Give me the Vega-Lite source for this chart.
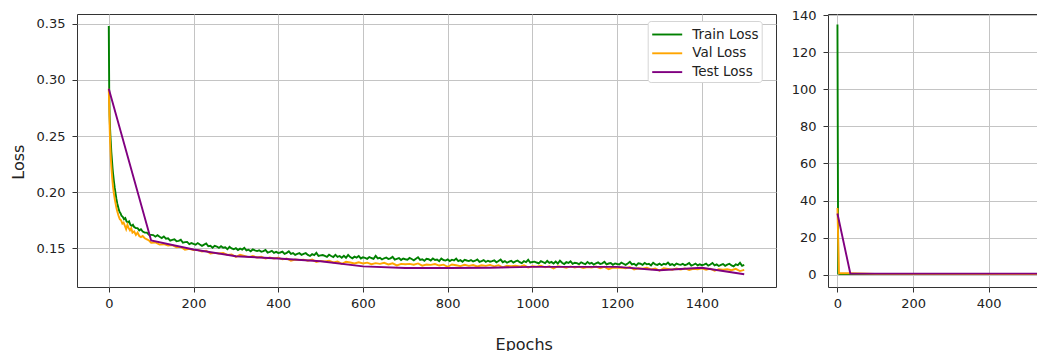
{
"$schema": "https://vega.github.io/schema/vega-lite/v6.json",
"padding": {"left": 10, "top": 8, "right": 0, "bottom": 0},
"background": "white",
"bounds": "flush",
"spacing": 52,
"datasets": {
"tr": [{"e":0,"v":0.348},{"e":1,"v":0.292},{"e":2,"v":0.268},{"e":3,"v":0.257},{"e":4,"v":0.249},{"e":5,"v":0.243},{"e":6,"v":0.236},{"e":7,"v":0.231},{"e":8,"v":0.226},{"e":9,"v":0.221},{"e":10,"v":0.217},{"e":12,"v":0.210},{"e":14,"v":0.204},{"e":16,"v":0.199},{"e":18,"v":0.194},{"e":20,"v":0.190},{"e":22,"v":0.187},{"e":24,"v":0.184},{"e":26,"v":0.182},{"e":28,"v":0.181},{"e":30,"v":0.179},{"e":33,"v":0.178},{"e":36,"v":0.176},{"e":39,"v":0.177},{"e":42,"v":0.174},{"e":45,"v":0.173},{"e":48,"v":0.174},{"e":51,"v":0.171},{"e":54,"v":0.170},{"e":57,"v":0.171},{"e":60,"v":0.169},{"e":64,"v":0.168},{"e":68,"v":0.168},{"e":72,"v":0.166},{"e":76,"v":0.167},{"e":80,"v":0.165},{"e":85,"v":0.164},{"e":90,"v":0.164},{"e":95,"v":0.162},{"e":100,"v":0.162},
{"e":105,"v":0.1618},{"e":110,"v":0.1604},{"e":115,"v":0.1617},{"e":120,"v":0.1603},{"e":125,"v":0.1592},{"e":130,"v":0.1606},{"e":135,"v":0.1586},{"e":140,"v":0.1589},{"e":145,"v":0.1569},{"e":150,"v":0.1576},
{"e":155,"v":0.1581},{"e":160,"v":0.1563},{"e":165,"v":0.1567},{"e":170,"v":0.1576},{"e":175,"v":0.1550},{"e":180,"v":0.1555},{"e":185,"v":0.1557},{"e":190,"v":0.1538},{"e":195,"v":0.1547},{"e":200,"v":0.1539},
{"e":205,"v":0.1532},{"e":210,"v":0.1547},{"e":215,"v":0.1534},{"e":220,"v":0.1522},{"e":225,"v":0.1533},{"e":230,"v":0.1544},{"e":235,"v":0.1519},{"e":240,"v":0.1522},{"e":245,"v":0.1506},{"e":250,"v":0.1522},
{"e":255,"v":0.1516},{"e":260,"v":0.1504},{"e":265,"v":0.1519},{"e":270,"v":0.1505},{"e":275,"v":0.1509},{"e":280,"v":0.1492},{"e":285,"v":0.1514},{"e":290,"v":0.1499},{"e":295,"v":0.1492},{"e":300,"v":0.1501},
{"e":305,"v":0.1485},{"e":310,"v":0.1497},{"e":315,"v":0.1489},{"e":320,"v":0.1505},{"e":325,"v":0.1481},{"e":330,"v":0.1488},{"e":335,"v":0.1474},{"e":340,"v":0.1490},{"e":345,"v":0.1482},{"e":350,"v":0.1476},
{"e":355,"v":0.1483},{"e":360,"v":0.1470},{"e":365,"v":0.1475},{"e":370,"v":0.1486},{"e":375,"v":0.1462},{"e":380,"v":0.1468},{"e":385,"v":0.1477},{"e":390,"v":0.1459},{"e":395,"v":0.1469},{"e":400,"v":0.1459},
{"e":405,"v":0.1463},{"e":410,"v":0.1470},{"e":415,"v":0.1451},{"e":420,"v":0.1460},{"e":425,"v":0.1473},{"e":430,"v":0.1450},{"e":435,"v":0.1458},{"e":440,"v":0.1442},{"e":445,"v":0.1450},{"e":450,"v":0.1457},
{"e":455,"v":0.1441},{"e":460,"v":0.1450},{"e":465,"v":0.1457},{"e":470,"v":0.1441},{"e":475,"v":0.1432},{"e":480,"v":0.1448},{"e":485,"v":0.1440},{"e":490,"v":0.1460},{"e":495,"v":0.1432},{"e":500,"v":0.1438},
{"e":505,"v":0.1440},{"e":510,"v":0.1432},{"e":515,"v":0.1424},{"e":520,"v":0.1443},{"e":525,"v":0.1432},{"e":530,"v":0.1423},{"e":535,"v":0.1442},{"e":540,"v":0.1424},{"e":545,"v":0.1432},{"e":550,"v":0.1417},
{"e":555,"v":0.1433},{"e":560,"v":0.1416},{"e":565,"v":0.1441},{"e":570,"v":0.1422},{"e":575,"v":0.1411},{"e":580,"v":0.1426},{"e":585,"v":0.1418},{"e":590,"v":0.1432},{"e":595,"v":0.1410},{"e":600,"v":0.1420},
{"e":605,"v":0.1416},{"e":610,"v":0.1407},{"e":615,"v":0.1423},{"e":620,"v":0.1414},{"e":625,"v":0.1407},{"e":630,"v":0.1433},{"e":635,"v":0.1410},{"e":640,"v":0.1416},{"e":645,"v":0.1401},{"e":650,"v":0.1412},
{"e":655,"v":0.1419},{"e":660,"v":0.1405},{"e":665,"v":0.1411},{"e":670,"v":0.1424},{"e":675,"v":0.1400},{"e":680,"v":0.1407},{"e":685,"v":0.1413},{"e":690,"v":0.1396},{"e":695,"v":0.1409},{"e":700,"v":0.1403},
{"e":705,"v":0.1399},{"e":710,"v":0.1415},{"e":715,"v":0.1405},{"e":720,"v":0.1394},{"e":725,"v":0.1408},{"e":730,"v":0.1421},{"e":735,"v":0.1398},{"e":740,"v":0.1403},{"e":745,"v":0.1389},{"e":750,"v":0.1407},
{"e":755,"v":0.1403},{"e":760,"v":0.1392},{"e":765,"v":0.1409},{"e":770,"v":0.1396},{"e":775,"v":0.1401},{"e":780,"v":0.1386},{"e":785,"v":0.1410},{"e":790,"v":0.1396},{"e":795,"v":0.1391},{"e":800,"v":0.1401},
{"e":805,"v":0.1387},{"e":810,"v":0.1399},{"e":815,"v":0.1393},{"e":820,"v":0.1409},{"e":825,"v":0.1386},{"e":830,"v":0.1395},{"e":835,"v":0.1381},{"e":840,"v":0.1398},{"e":845,"v":0.1392},{"e":850,"v":0.1387},
{"e":855,"v":0.1396},{"e":860,"v":0.1383},{"e":865,"v":0.1390},{"e":870,"v":0.1401},{"e":875,"v":0.1379},{"e":880,"v":0.1386},{"e":885,"v":0.1396},{"e":890,"v":0.1379},{"e":895,"v":0.1390},{"e":900,"v":0.1381},
{"e":905,"v":0.1386},{"e":910,"v":0.1394},{"e":915,"v":0.1376},{"e":920,"v":0.1387},{"e":925,"v":0.1400},{"e":930,"v":0.1377},{"e":935,"v":0.1387},{"e":940,"v":0.1372},{"e":945,"v":0.1381},{"e":950,"v":0.1389},
{"e":955,"v":0.1374},{"e":960,"v":0.1384},{"e":965,"v":0.1392},{"e":970,"v":0.1377},{"e":975,"v":0.1368},{"e":980,"v":0.1386},{"e":985,"v":0.1378},{"e":990,"v":0.1398},{"e":995,"v":0.1372},{"e":1000,"v":0.1379},
{"e":1005,"v":0.1382},{"e":1010,"v":0.1374},{"e":1015,"v":0.1367},{"e":1020,"v":0.1386},{"e":1025,"v":0.1377},{"e":1030,"v":0.1369},{"e":1035,"v":0.1388},{"e":1040,"v":0.1371},{"e":1045,"v":0.1379},{"e":1050,"v":0.1365},
{"e":1055,"v":0.1382},{"e":1060,"v":0.1365},{"e":1065,"v":0.1390},{"e":1070,"v":0.1372},{"e":1075,"v":0.1361},{"e":1080,"v":0.1377},{"e":1085,"v":0.1370},{"e":1090,"v":0.1384},{"e":1095,"v":0.1362},{"e":1100,"v":0.1372},
{"e":1105,"v":0.1369},{"e":1110,"v":0.1359},{"e":1115,"v":0.1376},{"e":1120,"v":0.1366},{"e":1125,"v":0.1360},{"e":1130,"v":0.1379},{"e":1135,"v":0.1364},{"e":1140,"v":0.1371},{"e":1145,"v":0.1355},{"e":1150,"v":0.1367},
{"e":1155,"v":0.1375},{"e":1160,"v":0.1361},{"e":1165,"v":0.1367},{"e":1170,"v":0.1380},{"e":1175,"v":0.1357},{"e":1180,"v":0.1365},{"e":1185,"v":0.1370},{"e":1190,"v":0.1354},{"e":1195,"v":0.1366},{"e":1200,"v":0.1361},
{"e":1205,"v":0.1357},{"e":1210,"v":0.1373},{"e":1215,"v":0.1363},{"e":1220,"v":0.1353},{"e":1225,"v":0.1366},{"e":1230,"v":0.1380},{"e":1235,"v":0.1357},{"e":1240,"v":0.1363},{"e":1245,"v":0.1348},{"e":1250,"v":0.1367},
{"e":1255,"v":0.1363},{"e":1260,"v":0.1353},{"e":1265,"v":0.1370},{"e":1270,"v":0.1358},{"e":1275,"v":0.1363},{"e":1280,"v":0.1348},{"e":1285,"v":0.1372},{"e":1290,"v":0.1358},{"e":1295,"v":0.1353},{"e":1300,"v":0.1364},
{"e":1305,"v":0.1350},{"e":1310,"v":0.1363},{"e":1315,"v":0.1357},{"e":1320,"v":0.1374},{"e":1325,"v":0.1352},{"e":1330,"v":0.1360},{"e":1335,"v":0.1347},{"e":1340,"v":0.1364},{"e":1345,"v":0.1357},{"e":1350,"v":0.1353},
{"e":1355,"v":0.1362},{"e":1360,"v":0.1350},{"e":1365,"v":0.1357},{"e":1370,"v":0.1369},{"e":1375,"v":0.1346},{"e":1380,"v":0.1354},{"e":1385,"v":0.1364},{"e":1390,"v":0.1348},{"e":1395,"v":0.1358},{"e":1400,"v":0.1350},
{"e":1405,"v":0.1355},{"e":1410,"v":0.1364},{"e":1415,"v":0.1346},{"e":1420,"v":0.1356},{"e":1425,"v":0.1370},{"e":1430,"v":0.1348},{"e":1435,"v":0.1357},{"e":1440,"v":0.1343},{"e":1445,"v":0.1352},{"e":1450,"v":0.1360},
{"e":1455,"v":0.1345},{"e":1460,"v":0.1355},{"e":1465,"v":0.1363},{"e":1470,"v":0.1348},{"e":1475,"v":0.1340},{"e":1480,"v":0.1358},{"e":1485,"v":0.1351},{"e":1490,"v":0.1371},{"e":1495,"v":0.1345},{"e":1500,"v":0.1352}],
"va": [{"e":0,"v":0.292},{"e":1,"v":0.276},{"e":2,"v":0.259},{"e":3,"v":0.246},{"e":4,"v":0.237},{"e":5,"v":0.229},{"e":6,"v":0.223},{"e":8,"v":0.213},{"e":10,"v":0.205},{"e":12,"v":0.199},{"e":14,"v":0.194},{"e":16,"v":0.190},{"e":18,"v":0.186},{"e":20,"v":0.183},{"e":23,"v":0.179},{"e":26,"v":0.176},{"e":29,"v":0.175},{"e":32,"v":0.172},{"e":35,"v":0.173},{"e":38,"v":0.170},{"e":41,"v":0.167},{"e":44,"v":0.171},{"e":47,"v":0.168},{"e":50,"v":0.166},{"e":53,"v":0.168},{"e":56,"v":0.164},{"e":60,"v":0.165},{"e":64,"v":0.162},{"e":68,"v":0.164},{"e":72,"v":0.161},{"e":76,"v":0.160},{"e":80,"v":0.161},{"e":85,"v":0.159},{"e":90,"v":0.158},{"e":95,"v":0.157},{"e":100,"v":0.155},
{"e":110,"v":0.1552},{"e":120,"v":0.1533},{"e":130,"v":0.1537},{"e":140,"v":0.1526},{"e":150,"v":0.1529},{"e":160,"v":0.1509},{"e":170,"v":0.1513},{"e":180,"v":0.1487},{"e":190,"v":0.1495},{"e":200,"v":0.1485},
{"e":210,"v":0.1485},{"e":220,"v":0.1472},{"e":230,"v":0.1479},{"e":240,"v":0.1454},{"e":250,"v":0.1460},{"e":260,"v":0.1454},{"e":270,"v":0.1458},{"e":280,"v":0.1441},{"e":290,"v":0.1446},{"e":300,"v":0.1424},
{"e":310,"v":0.1442},{"e":320,"v":0.1433},{"e":330,"v":0.1422},{"e":340,"v":0.1431},{"e":350,"v":0.1419},{"e":360,"v":0.1425},{"e":370,"v":0.1409},{"e":380,"v":0.1418},{"e":390,"v":0.1410},{"e":400,"v":0.1417},
{"e":410,"v":0.1402},{"e":420,"v":0.1410},{"e":430,"v":0.1389},{"e":440,"v":0.1401},{"e":450,"v":0.1396},{"e":460,"v":0.1399},{"e":470,"v":0.1390},{"e":480,"v":0.1400},{"e":490,"v":0.1379},{"e":500,"v":0.1388},
{"e":510,"v":0.1384},{"e":520,"v":0.1390},{"e":530,"v":0.1375},{"e":540,"v":0.1382},{"e":550,"v":0.1362},{"e":560,"v":0.1381},{"e":570,"v":0.1374},{"e":580,"v":0.1365},{"e":590,"v":0.1376},{"e":600,"v":0.1365},
{"e":610,"v":0.1373},{"e":620,"v":0.1359},{"e":630,"v":0.1368},{"e":640,"v":0.1362},{"e":650,"v":0.1371},{"e":660,"v":0.1357},{"e":670,"v":0.1367},{"e":680,"v":0.1348},{"e":690,"v":0.1362},{"e":700,"v":0.1358},
{"e":710,"v":0.1362},{"e":720,"v":0.1354},{"e":730,"v":0.1366},{"e":740,"v":0.1346},{"e":750,"v":0.1356},{"e":760,"v":0.1353},{"e":770,"v":0.1360},{"e":780,"v":0.1347},{"e":790,"v":0.1355},{"e":800,"v":0.1336},
{"e":810,"v":0.1356},{"e":820,"v":0.1350},{"e":830,"v":0.1342},{"e":840,"v":0.1354},{"e":850,"v":0.1344},{"e":860,"v":0.1352},{"e":870,"v":0.1339},{"e":880,"v":0.1349},{"e":890,"v":0.1344},{"e":900,"v":0.1353},
{"e":910,"v":0.1340},{"e":920,"v":0.1350},{"e":930,"v":0.1331},{"e":940,"v":0.1345},{"e":950,"v":0.1341},{"e":960,"v":0.1345},{"e":970,"v":0.1338},{"e":980,"v":0.1349},{"e":990,"v":0.1330},{"e":1000,"v":0.1340},
{"e":1010,"v":0.1337},{"e":1020,"v":0.1345},{"e":1030,"v":0.1331},{"e":1040,"v":0.1340},{"e":1050,"v":0.1321},{"e":1060,"v":0.1341},{"e":1070,"v":0.1335},{"e":1080,"v":0.1327},{"e":1090,"v":0.1339},{"e":1100,"v":0.1329},
{"e":1110,"v":0.1338},{"e":1120,"v":0.1324},{"e":1130,"v":0.1334},{"e":1140,"v":0.1329},{"e":1150,"v":0.1338},{"e":1160,"v":0.1324},{"e":1170,"v":0.1335},{"e":1180,"v":0.1315},{"e":1190,"v":0.1329},{"e":1200,"v":0.1326},
{"e":1210,"v":0.1330},{"e":1220,"v":0.1322},{"e":1230,"v":0.1333},{"e":1240,"v":0.1313},{"e":1250,"v":0.1323},{"e":1260,"v":0.1320},{"e":1270,"v":0.1327},{"e":1280,"v":0.1313},{"e":1290,"v":0.1321},{"e":1300,"v":0.1302},
{"e":1310,"v":0.1323},{"e":1320,"v":0.1317},{"e":1330,"v":0.1310},{"e":1340,"v":0.1321},{"e":1350,"v":0.1312},{"e":1360,"v":0.1321},{"e":1370,"v":0.1308},{"e":1380,"v":0.1318},{"e":1390,"v":0.1313},{"e":1400,"v":0.1323},
{"e":1410,"v":0.1309},{"e":1420,"v":0.1319},{"e":1430,"v":0.1300},{"e":1440,"v":0.1314},{"e":1450,"v":0.1310},{"e":1460,"v":0.1314},{"e":1470,"v":0.1306},{"e":1480,"v":0.1318},{"e":1490,"v":0.1298},{"e":1500,"v":0.1308}],
"te": [{"e":0,"v":0.292},{"e":100,"v":0.157},{"e":200,"v":0.149},{"e":300,"v":0.143},{"e":400,"v":0.141},{"e":500,"v":0.1385},{"e":600,"v":0.134},{"e":700,"v":0.1325},{"e":800,"v":0.1325},{"e":900,"v":0.1328},{"e":1000,"v":0.1335},{"e":1100,"v":0.1335},{"e":1200,"v":0.1335},{"e":1300,"v":0.1305},{"e":1400,"v":0.1327},{"e":1500,"v":0.127}],
"tr2": [{"e":0,"v":135},{"e":2,"v":0.6},{"e":6,"v":0.35},{"e":100,"v":0.3},{"e":500,"v":0.28},{"e":1000,"v":0.27},{"e":1500,"v":0.26}],
"va2": [{"e":0,"v":36},{"e":4,"v":0.75},{"e":31,"v":0.7},{"e":100,"v":0.4},{"e":500,"v":0.35},{"e":1000,"v":0.33},{"e":1500,"v":0.3}],
"te2": [{"e":0,"v":33},{"e":34,"v":0.6},{"e":500,"v":0.5},{"e":1000,"v":0.45},{"e":1500,"v":0.4}]
},
"hconcat": [
{
"width": 699, "height": 273,
"encoding": {
"x": {"field": "e", "type": "quantitative", "scale": {"domain": [-75, 1575], "nice": false, "zero": false},
  "axis": {"values": [0,200,400,600,800,1000,1200,1400], "format": "d", "title": "Epochs", "titleX": 446.7, "titleY": 62, "titleBaseline": "alphabetic"}},
"y": {"field": "v", "type": "quantitative", "scale": {"domain": [0.1156, 0.3586], "nice": false, "zero": false},
  "axis": {"values": [0.15,0.2,0.25,0.3,0.35], "format": ".2f", "title": "Loss", "titleX": -58.3, "titleY": 147.7, "titleBaseline": "middle", "titleAngle": -90}},
"color": {"type": "nominal", "scale": {"domain": ["Train Loss","Val Loss","Test Loss"], "range": ["#008000","#FFA500","#800080"]},
  "legend": {"orient": "none", "legendX": 570.7, "legendY": 7, "title": null, "symbolType": "M-1.5,0H1.5", "symbolSize": 400, "symbolStrokeWidth": 1.9, "labelFontSize": 13.5, "labelFont": "DejaVu Sans", "labelColor": "#222", "padding": 2.5, "rowPadding": 0.8, "labelOffset": 14, "symbolOffset": 6, "strokeColor": "#d5d5d5", "fillColor": "white", "cornerRadius": 3}}
},
"layer": [
{"data": {"name": "tr"}, "mark": {"type": "line", "strokeWidth": 1.9}, "encoding": {"color": {"datum": "Train Loss"}}},
{"data": {"name": "va"}, "mark": {"type": "line", "strokeWidth": 1.9}, "encoding": {"color": {"datum": "Val Loss"}}},
{"data": {"name": "te"}, "mark": {"type": "line", "strokeWidth": 1.9}, "encoding": {"color": {"datum": "Test Loss"}}}
]
},
{
"width": 209, "height": 273,
"encoding": {
"x": {"field": "e", "type": "quantitative", "scale": {"domain": [-25, 528], "nice": false, "zero": false},
  "axis": {"values": [0,200,400], "title": null}},
"y": {"field": "v", "type": "quantitative", "scale": {"domain": [-6.7, 140.7], "nice": false, "zero": false},
  "axis": {"values": [0,20,40,60,80,100,120,140], "title": null}},
"color": {"type": "nominal", "scale": {"domain": ["Train Loss","Val Loss","Test Loss"], "range": ["#008000","#FFA500","#800080"]}, "legend": null}
},
"layer": [
{"data": {"name": "tr2"}, "mark": {"type": "line", "strokeWidth": 1.9, "clip": true}, "encoding": {"color": {"datum": "Train Loss"}}},
{"data": {"name": "va2"}, "mark": {"type": "line", "strokeWidth": 1.9, "clip": true}, "encoding": {"color": {"datum": "Val Loss"}}},
{"data": {"name": "te2"}, "mark": {"type": "line", "strokeWidth": 1.9, "clip": true}, "encoding": {"color": {"datum": "Test Loss"}}}
]
}
],
"config": {
"font": "DejaVu Sans",
"view": {"stroke": "#333", "strokeWidth": 1},
"axis": {"labelFont": "DejaVu Sans", "labelFontSize": 13, "labelColor": "#222", "tickColor": "#333", "tickSize": 5, "domain": false, "grid": true, "gridColor": "#c4c4c4", "gridWidth": 1, "titleFont": "DejaVu Sans", "titleFontSize": 16, "titleFontWeight": "normal", "titleColor": "#222", "labelPadding": 5},
"axisY": {"labelPadding": 7}
}
}
